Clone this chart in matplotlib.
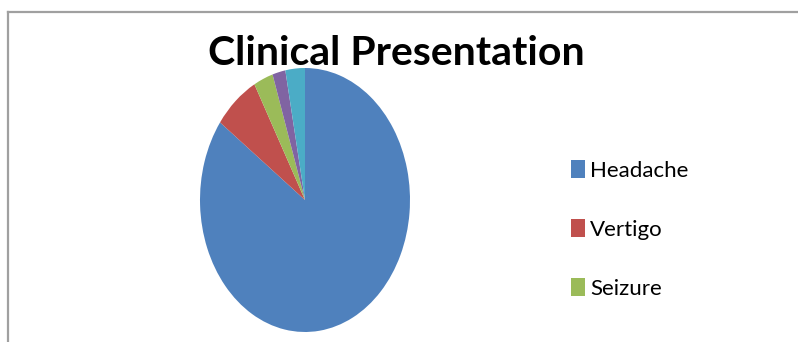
import matplotlib.pyplot as plt
from matplotlib.lines import Line2D

# data (percent of cases)
categories = ["Headache", "Vertigo", "Seizure", "Syncope", "Others"]
cases = [85, 7, 3, 2, 3]
colors = ["#4F81BD", "#C0504D", "#9BBB59", "#8064A2", "#4BACC6"]
legend_count = 3  # only the first three entries fit in the legend

W, H = 798, 342
fig = plt.figure(figsize=(W / 100, H / 100), dpi=100)

# grey chart-area border (top and left edges visible)
fig.add_artist(Line2D([7.5 / W, 1.0], [1 - 12 / H, 1 - 12 / H], color="#a0a0a0", lw=1.6))
fig.add_artist(Line2D([7.5 / W, 7.5 / W], [1 - 12 / H, 0.0], color="#a0a0a0", lw=1.6))

# pie drawn into a tall box so it comes out as an ellipse, like the original
ax = fig.add_axes([200 / W, (H - 332) / H, 210 / W, 264 / H])
wedges, _ = ax.pie(cases, colors=colors, startangle=90, counterclock=False,
                   radius=1.0, wedgeprops=dict(linewidth=0))
ax.set_aspect("auto")
ax.set_xlim(-1, 1)
ax.set_ylim(-1, 1)
ax.axis("off")

fig.text(396 / W, 1 - 65 / H, "Clinical Presentation", ha="center", va="baseline",
         fontsize=29.5, fontweight="bold", family="Lato", color="black")

fig.legend(wedges[:legend_count], categories[:legend_count], loc="upper left",
           bbox_to_anchor=(571 / W, 1 - 160 / H), frameon=False,
           prop=dict(family="Lato", size=16),
           handlelength=0.62, handleheight=0.85, handletextpad=0.25,
           labelspacing=1.73, borderpad=0, borderaxespad=0)

fig.savefig("out.png", dpi=100)
